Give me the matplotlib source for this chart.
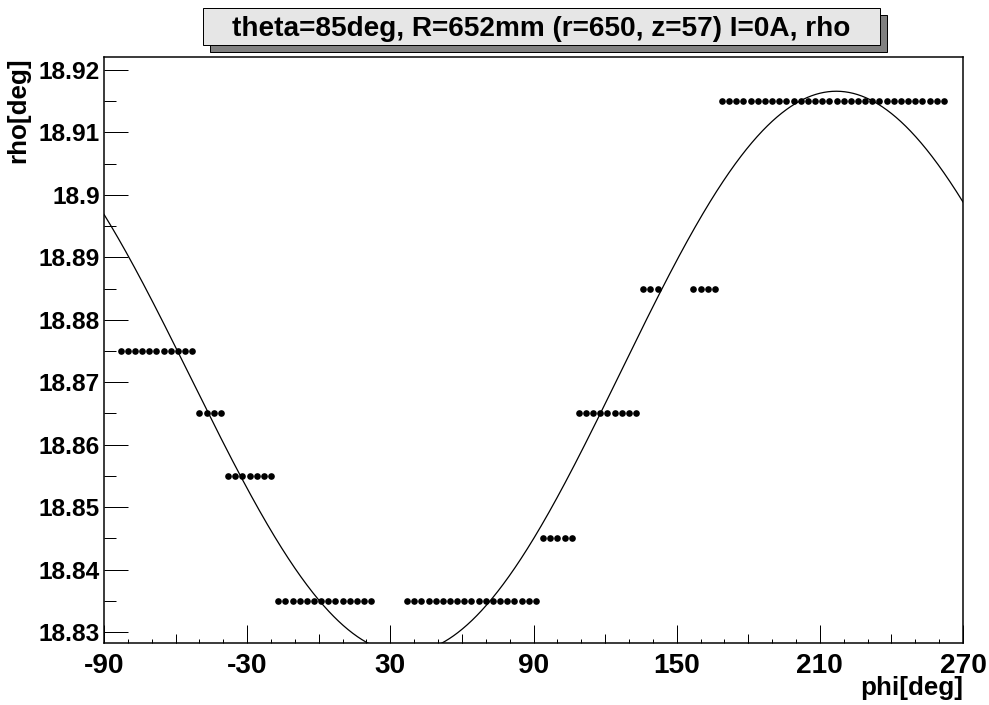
import numpy as np
import matplotlib
matplotlib.use("Agg")
import matplotlib.pyplot as plt
from matplotlib.patches import Rectangle
from matplotlib.ticker import FixedLocator, FixedFormatter, MultipleLocator, NullFormatter

plt.rcParams['font.family'] = ['Liberation Sans', 'DejaVu Sans']
plt.rcParams['font.weight'] = 'bold'
plt.rcParams['axes.unicode_minus'] = False

# measured rho per azimuth phi (points below the axis range are not stored)
phi = [-83, -80, -77, -74, -71, -68, -65, -62, -59, -56, -53,
       -50, -47, -44, -41,
       -38, -35, -32, -29, -26, -23, -20,
       -17, -14, -11, -8, -5, -2, 1, 4, 7, 10, 13, 16, 19, 22,
       37, 40, 43, 46, 49, 52, 55, 58, 61, 64, 67, 70, 73, 76, 79, 82, 85, 88, 91,
       94, 97, 100, 103, 106,
       109, 112, 115, 118, 121, 124, 127, 130, 133,
       136, 139, 142,
       157, 160, 163, 166,
       169, 172, 175, 178, 181, 184, 187, 190, 193, 196, 199, 202, 205, 208, 211, 214,
       217, 220, 223, 226, 229, 232, 235, 238, 241, 244, 247, 250, 253, 256, 259, 262]
rho = [18.875] * 11 + [18.865] * 4 + [18.855] * 7 + [18.835] * 14 + \
      [18.835] * 19 + [18.845] * 5 + [18.865] * 9 + [18.885] * 3 + \
      [18.885] * 4 + [18.915] * 32

# sinusoidal fit rho(phi) = offset + amplitude*cos(phi - phase) + slope*(phi - 90)
fit_offset = 18.8714
fit_amplitude = 0.0445
fit_phase = 216.5
fit_slope = 5.5e-6

x_ticks = [-90, -30, 30, 90, 150, 210, 270]
x_mid_ticks = [-60, 0, 60, 120, 180, 240]
y_ticks = [18.83, 18.84, 18.85, 18.86, 18.87, 18.88, 18.89, 18.90, 18.91, 18.92]
y_tick_labels = ['18.83', '18.84', '18.85', '18.86', '18.87', '18.88',
                 '18.89', '18.9', '18.91', '18.92']

title = 'theta=85deg, R=652mm (r=650, z=57) I=0A, rho'

W, H = 989, 705
PX = 72 / 100.0  # points per pixel at dpi 100
FS_Y = 24.5 * PX
FS_X = 28 * PX
FS_AXT = 26 * PX
FS_TITLE = 28 * PX

fig = plt.figure(figsize=(W / 100, H / 100), dpi=100)
x0, x1, ytop, ybot = 104, 963, 57, 643
ax = fig.add_axes([x0 / W, 1 - ybot / H, (x1 - x0) / W, (ybot - ytop) / H])

ax.plot(phi, rho, 'o', color='black', ms=4.8, mew=0, zorder=3)

phi_fit = np.linspace(-90, 270, 1441)
rho_fit = fit_offset + fit_amplitude * np.cos(np.radians(phi_fit - fit_phase)) + fit_slope * (phi_fit - 90)
ax.plot(phi_fit, rho_fit, color='black', lw=0.9, zorder=2)

ax.set_xlim(-90, 270)
ax.set_ylim(18.82824, 18.92208)

ax.xaxis.set_major_locator(FixedLocator(x_ticks))
ax.xaxis.set_minor_locator(MultipleLocator(10))
ax.yaxis.set_major_locator(FixedLocator(y_ticks))
ax.yaxis.set_major_formatter(FixedFormatter(y_tick_labels))
ax.yaxis.set_minor_locator(MultipleLocator(0.005))

ax.tick_params(axis='x', which='major', direction='in', length=18 * PX, width=1.0 * PX,
               labelsize=FS_X, pad=10 * PX, top=False)
ax.tick_params(axis='x', which='minor', direction='in', length=4.5 * PX, width=1.0 * PX, top=False)
ax.tick_params(axis='y', which='major', direction='in', length=24 * PX, width=1.0 * PX,
               labelsize=FS_Y, pad=4 * PX, right=False)
ax.tick_params(axis='y', which='minor', direction='in', length=12 * PX, width=1.0 * PX, right=False)
for lab in ax.get_xticklabels() + ax.get_yticklabels():
    lab.set_fontweight('bold')

sec = ax.secondary_xaxis('bottom')
sec.xaxis.set_major_locator(FixedLocator(x_mid_ticks))
sec.xaxis.set_major_formatter(NullFormatter())
sec.tick_params(axis='x', direction='in', length=9 * PX, width=1.0 * PX)
sec.spines['bottom'].set_visible(False)

for s in ax.spines.values():
    s.set_linewidth(1.5 * PX)

# axis titles
fig.text(x1 / W, 1 - 688 / H, 'phi[deg]', ha='right', va='center', fontsize=FS_AXT, fontweight='bold')
fig.text(18 / W, 1 - ytop / H, 'rho[deg]', ha='center', va='top', rotation=90,
         fontsize=FS_AXT, fontweight='bold')

# title box with drop shadow
bx0, bx1, by0, by1 = 203, 880, 8, 45
sh = 7
fig.patches.append(Rectangle(((bx0 + sh) / W, 1 - (by1 + sh) / H), (bx1 - bx0) / W, (by1 - by0) / H,
                             transform=fig.transFigure, facecolor='#808080', edgecolor='black',
                             lw=1.0 * PX, zorder=1))
fig.patches.append(Rectangle((bx0 / W, 1 - by1 / H), (bx1 - bx0) / W, (by1 - by0) / H,
                             transform=fig.transFigure, facecolor='#e6e6e6', edgecolor='black',
                             lw=1.0 * PX, zorder=2))
fig.text((bx0 + bx1) / 2 / W, 1 - ((by0 + by1) / 2 + 3) / H, title, ha='center', va='center',
         fontsize=FS_TITLE, fontweight='bold', zorder=3)

fig.savefig('out.png', dpi=100)
